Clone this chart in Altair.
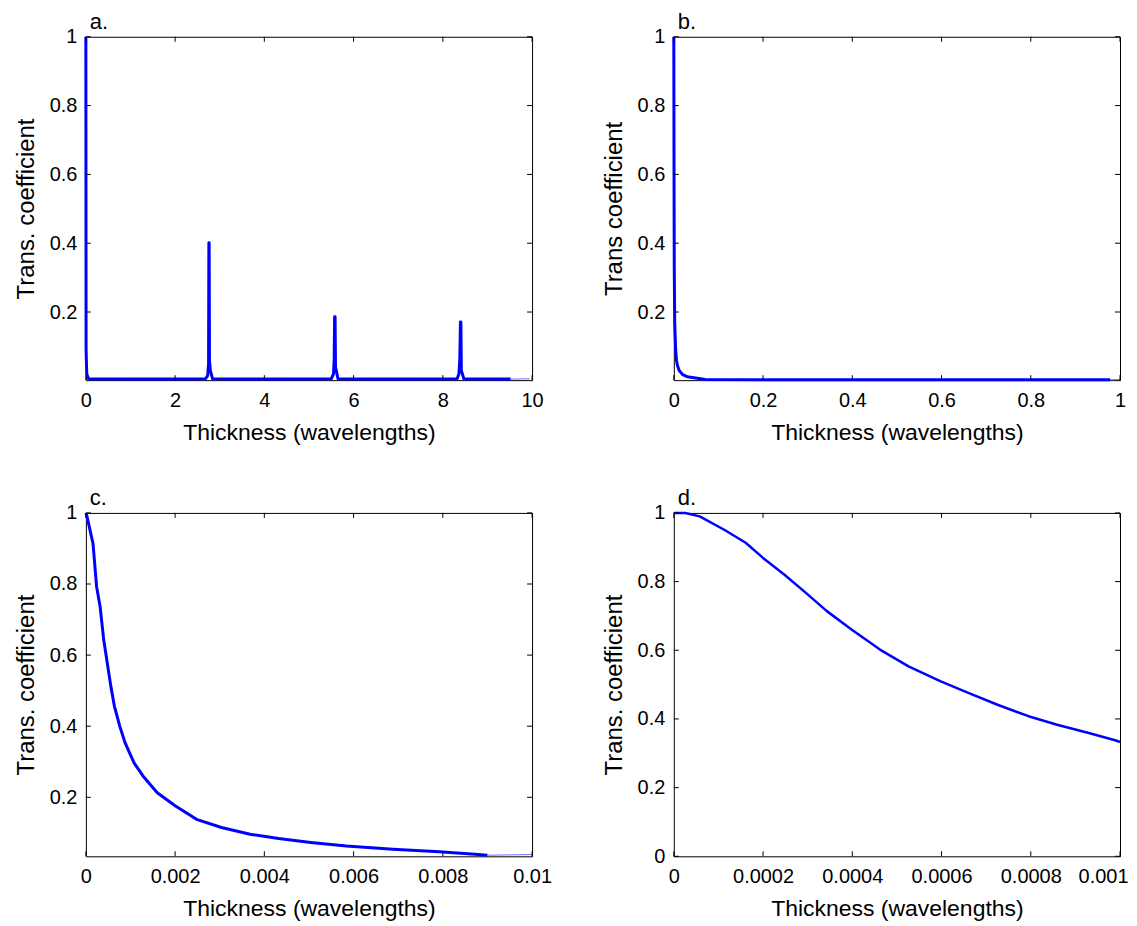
import altair as alt
import pandas as pd

FONT = "Liberation Sans"
BLUE = "#0000ff"
XTITLE = "Thickness (wavelengths)"

# ---------------- Panel a ----------------
a_x = [0, 0.005, 0.02, 0.06, 1.0, 2.0, 2.68,
       2.73, 2.75, 2.757, 2.763, 2.77, 2.79, 2.84,
       3.5, 4.5, 5.50,
       5.55, 5.565, 5.575, 5.585, 5.595, 5.65,
       6.5, 7.5, 8.32,
       8.36, 8.38, 8.395, 8.405, 8.415, 8.47,
       9.0, 9.52]
a_y = [1.0, 0.09, 0.02, 0.006, 0.005, 0.005, 0.006,
       0.015, 0.05, 0.401, 0.401, 0.06, 0.03, 0.006,
       0.005, 0.005, 0.006,
       0.02, 0.06, 0.186, 0.186, 0.04, 0.006,
       0.005, 0.005, 0.006,
       0.02, 0.06, 0.171, 0.171, 0.03, 0.006,
       0.005, 0.005]
a_tail_x = [9.52, 9.95]
a_tail_y = [0.005, 0.006]
a_xticks = [0, 2, 4, 6, 8, 10]
a_yticks = [0.2, 0.4, 0.6, 0.8, 1]

# ---------------- Panel b ----------------
b_x = [0, 0.0005, 0.001, 0.002, 0.004, 0.006, 0.008, 0.012, 0.02, 0.03,
       0.045, 0.06, 0.07, 0.2, 0.5, 0.978]
b_y = [1.0, 0.6, 0.33, 0.17, 0.094, 0.06, 0.045, 0.03, 0.018, 0.012,
       0.009, 0.006, 0.004, 0.003, 0.003, 0.003]
b_tail_x = [0.978, 1.0]
b_tail_y = [0.003, 0.004]
b_xticks = [0, 0.2, 0.4, 0.6, 0.8, 1]
b_yticks = [0.2, 0.4, 0.6, 0.8, 1]

# ---------------- Panel c ----------------
c_x = [0, 0.00002, 0.00016, 0.00024, 0.00032, 0.0004, 0.00048, 0.00056,
       0.00064, 0.00076, 0.00088, 0.00108, 0.00128, 0.0016, 0.002, 0.00248,
       0.00304, 0.00368, 0.00432, 0.00504, 0.00584, 0.00688, 0.00792,
       0.00872, 0.009]
c_y = [1.0, 0.993, 0.914, 0.793, 0.736, 0.643, 0.578, 0.512,
       0.456, 0.4, 0.353, 0.297, 0.26, 0.213, 0.176, 0.138,
       0.115, 0.096, 0.084, 0.073, 0.063, 0.054, 0.047,
       0.04, 0.037]
c_tail_x = [0.009, 0.01]
c_tail_y = [0.037, 0.039]
c_xticks = [0, 0.002, 0.004, 0.006, 0.008, 0.01]
c_yticks = [0.2, 0.4, 0.6, 0.8, 1]

# ---------------- Panel d ----------------
d_x = [0, 0.000026, 0.000058, 0.000113, 0.000161, 0.0002, 0.000248, 0.000296,
       0.000343, 0.000399, 0.000462, 0.000526, 0.000597, 0.00066, 0.000724,
       0.000795, 0.000859, 0.00093, 0.000989, 0.001]
d_y = [1.0, 1.0, 0.99, 0.951, 0.913, 0.869, 0.82, 0.767,
       0.714, 0.66, 0.602, 0.553, 0.51, 0.476, 0.442,
       0.408, 0.383, 0.359, 0.338, 0.333]
d_xticks = [0, 0.0002, 0.0004, 0.0006, 0.0008, 0.001]
d_yticks = [0, 0.2, 0.4, 0.6, 0.8, 1]

W = 447
H = 344
TICK = 5


def panel(label, ytitle, xs, ys, tx, ty, xdom, ydom, xticks, yticks, lw, last_right=False):
    df = pd.DataFrame({"x": xs, "y": ys, "i": list(range(len(xs)))})
    xsc = alt.Scale(domain=xdom, nice=False, zero=False)
    ysc = alt.Scale(domain=ydom, nice=False, zero=False)
    xkw = {}
    if last_right:
        test = "datum.value >= %r" % (xdom[1] * 0.999)
        xkw = dict(
            labelAlign={"condition": {"test": test, "value": "right"}, "value": "center"},
            labelOffset={"condition": {"test": test, "value": 8}, "value": 0},
        )
    xaxis = alt.Axis(values=xticks, format="~r", labelPadding=10, titlePadding=11,
                     labelFlush=False, grid=False, ticks=False, tickSize=0, domain=False,
                     titleFontSize=23, **xkw)
    yaxis = alt.Axis(values=yticks, format="~r", labelPadding=9, titlePadding=11,
                     labelFlush=False, grid=False, ticks=False, tickSize=0, domain=False,
                     titleFontSize=24)
    layers = [
        alt.Chart(df).mark_line(color=BLUE, strokeWidth=lw, clip=False,
                                strokeJoin="round", strokeCap="butt").encode(
            x=alt.X("x:Q", scale=xsc, axis=xaxis, title=XTITLE),
            y=alt.Y("y:Q", scale=ysc, axis=yaxis, title=ytitle),
            order="i:Q",
        )
    ]
    if tx is not None:
        tdf = pd.DataFrame({"x": tx, "y": ty})
        layers.append(
            alt.Chart(tdf).mark_line(color="#6f6fff", strokeWidth=1, clip=False).encode(
                x=alt.X("x:Q", scale=xsc, title=XTITLE),
                y=alt.Y("y:Q", scale=ysc, title=ytitle),
            )
        )
    xt = pd.DataFrame({"x": xticks})
    yt = pd.DataFrame({"y": yticks})
    for (v1, v2) in [(H, H - TICK), (0, TICK)]:
        layers.append(
            alt.Chart(xt).mark_rule(color="black", strokeWidth=1).encode(
                x=alt.X("x:Q", scale=xsc, title=XTITLE),
                y=alt.value(v1), y2=alt.value(v2),
            )
        )
    for (v1, v2) in [(0, TICK), (W, W - TICK)]:
        layers.append(
            alt.Chart(yt).mark_rule(color="black", strokeWidth=1).encode(
                y=alt.Y("y:Q", scale=ysc, title=ytitle),
                x=alt.value(v1), x2=alt.value(v2),
            )
        )
    return alt.layer(*layers).properties(
        width=W, height=H,
        title=alt.TitleParams(text=label, anchor="start", frame="group", fontSize=22,
                              font=FONT, fontWeight="normal", color="black",
                              baseline="alphabetic", offset=6, dx=4, dy=30),
    )


pa = panel("a.", "Trans. coefficient", a_x, a_y, a_tail_x, a_tail_y,
           [0, 10], [0.002, 1], a_xticks, a_yticks, 3)
pb = panel("b.", "Trans coefficient", b_x, b_y, b_tail_x, b_tail_y,
           [0, 1], [0.002, 1], b_xticks, b_yticks, 3)
pc = panel("c.", "Trans. coefficient", c_x, c_y, c_tail_x, c_tail_y,
           [0, 0.01], [0.034, 1], c_xticks, c_yticks, 3)
pd_ = panel("d.", "Trans. coefficient", d_x, d_y, None, None,
            [0, 0.001], [0, 1], d_xticks, d_yticks, 2.5, last_right=True)

chart = alt.concat(
    pa, pb, pc, pd_, columns=2,
    spacing={"row": 133, "column": 142},
    bounds="flush",
).properties(
    padding={"left": 5, "top": 1, "right": 0, "bottom": 0},
    background="white",
).configure_view(
    stroke="black", strokeWidth=1,
).configure_axis(
    grid=False, ticks=False, tickSize=0, domain=False,
    labelFont=FONT, labelFontSize=20, labelColor="black",
    titleFont=FONT, titleFontSize=23, titleFontWeight="normal", titleColor="black",
)

chart.save("out.html", embed_options={"renderer": "svg", "actions": False})
